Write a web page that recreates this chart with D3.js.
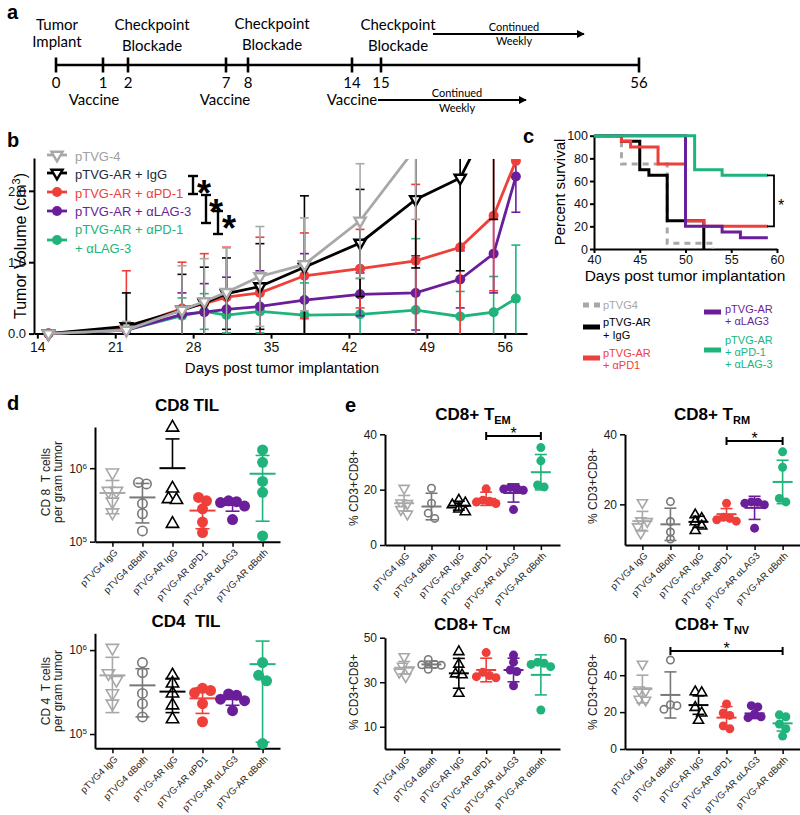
<!DOCTYPE html>
<html><head><meta charset="utf-8">
<script src="https://cdn.jsdelivr.net/npm/d3@7/dist/d3.min.js"></script>
<style>
body{margin:0;background:#fff}
svg{display:block}
text{font-family:"Liberation Sans",Arial,sans-serif}
.pre{white-space:pre}
</style></head><body>
<svg id="fig" width="800" height="815" viewBox="0 0 800 815"></svg>
<script>
// ================= DATA =================
// Panel a – treatment timeline
const tlDays=[0,1,2,7,8,14,15,56];
const topEventDays=[0,2,8,15];
const topEventText=[["Tumor","Implant"],["Checkpoint","Blockade"],["Checkpoint","Blockade"],["Checkpoint","Blockade"]];
const vaccineDays=[1,7,14];
const weeklyText=["Continued","Weekly"];

// Panel b – tumor volume (cm3), mean and SD
const bDays=[15,22,27,29,31,34,38,43,48,52,55,57];
const bTicks=[14,21,28,35,42,49,56];
const volPTVG4=[0,0.05,0.33,0.45,0.58,0.80,0.97,1.58,2.60,null,null,null];
const sdPTVG4 =[0.01,0.12,0.62,0.60,0.62,0.70,0.65,0.80,1.00,null,null,null];
const volIgG  =[0,0.10,0.33,0.43,0.56,0.66,0.93,1.27,1.88,2.18,3.10,null];
const sdIgG   =[0.01,0.47,0.50,0.50,0.50,0.60,1.00,0.75,0.96,1.30,1.50,null];
const volPD1  =[0,0.08,0.35,0.42,0.51,0.57,0.81,0.91,1.02,1.21,1.65,2.42];
const sdPD1   =[0.01,0.80,0.65,0.70,0.70,0.78,0.60,0.55,1.07,1.30,1.05,null];
const volLAG3 =[0,0.05,0.27,0.30,0.34,0.38,0.47,0.55,0.57,0.76,1.12,2.20];
const sdLAG3  =[0.01,0.05,0.30,0.40,0.45,0.50,0.65,0.30,0.52,0.40,0.55,0.50];
const volCombo=[0,0.05,0.25,0.31,0.26,0.31,0.26,0.27,0.33,0.24,0.30,0.49];
const sdCombo =[0.01,0.05,0.25,0.25,0.25,0.30,0.45,0.50,1.00,0.35,0.50,0.75];
const bLegend=[["pTVG-4"],["pTVG-AR + IgG"],["pTVG-AR + αPD-1"],["pTVG-AR + αLAG-3"],["pTVG-AR + αPD-1","+ αLAG-3"]];

// Panel c – survival
const survTicksX=[40,45,50,55,60];
const survTicksY=[0,20,40,60,80,100];
const tPTVG4=[40,43,48,53],          sPTVG4=[100,75,5,0];
const tIgG  =[40,43,45,46,48,52],    sIgG  =[100,95,70,65,25,0];
const tPD1  =[40,43,44,47,50,52,59], sPD1  =[100,95,90,75,25,20,20];
const tLAG3 =[40,50,54,56,59],       sLAG3 =[100,20,15,10,10];
const tCombo=[40,51,54,59],          sCombo=[100,70,65,65];
const cLegend=[["pTVG4"],["pTVG-AR","+ IgG"],["pTVG-AR","+ αPD1"],["pTVG-AR","+ αLAG3"],["pTVG-AR","+ αPD-1","+ αLAG-3"]];

// Panels d, e – dot plots
const dotCats=["pTVG4 IgG","pTVG4 αBoth","pTVG-AR IgG","pTVG-AR αPD1","pTVG-AR αLAG3","pTVG-AR αBoth"];
const cd8TilPts=[[8.7e5,4.9e5,4.9e5,3.5e5,2.5e5],[6.4e5,6.1e5,3.3e5,2.4e5,1.4e5],[3.57e6,5.3e5,3.8e5,3.7e5,1.75e5],
  [4.0e5,3.6e5,2.8e5,1.85e5,1.33e5],[3.6e5,3.5e5,3.4e5,3.05e5,2.0e5],[1.77e6,1.2e6,6.6e5,4.7e5,1.2e5]];
const cd8TilMean=[4.6e5,4.0e5,1.0e6,2.65e5,3.15e5,8.4e5];
const cd8TilSD=[2.2e5,2.2e5,1.5e6,1.15e5,0.55e5,6.5e5];
const cd4TilPts=[[1.06e6,5.3e5,4.4e5,3.05e5,2.3e5],[7.1e5,5.4e5,3.05e5,2.3e5,1.6e5],[5.0e5,4.0e5,3.05e5,2.2e5,1.5e5],
  [3.5e5,3.3e5,3.1e5,2.3e5,1.4e5],[3.0e5,2.9e5,2.6e5,2.5e5,1.9e5],[7.1e5,5.0e5,4.3e5,7.7e4]];
const cd4TilMean=[5.0e5,3.8e5,3.2e5,2.66e5,2.6e5,6.8e5];
const cd4TilSD=[3.2e5,2.2e5,1.4e5,0.9e5,0.4e5,6.0e5];
const temPts=[[20.5,15.2,15.0,12.8,11.2],[20.5,15.1,11.5,9.6],[16.2,15.2,14.5,13.0,12.0],[20.3,16.2,15.8,15.5,15.0],
  [20.8,20.5,20.2,19.8,12.8],[35.2,30.4,21.7,21.0]];
const temMean=[15.1,13.9,14.2,16.7,18.8,26.3];
const temSD=[2.8,4.8,1.6,2.4,3.3,6.4];
const trmPts=[[20.5,15.3,15.1,13.6,11.8],[20.8,15.1,12.1,10.1],[17.0,16.0,15.0,13.8,12.5],[20.3,16.3,16.0,15.6,15.2],
  [20.7,20.6,20.3,19.9,13.2],[35.0,30.6,21.7,20.7]];
const trmMean=[15.2,14.3,15.0,17.2,19.0,26.4];
const trmSD=[2.8,4.6,1.6,1.6,3.3,6.2];
const tcmPts=[[41.5,37.2,35.5,34.5,32.5],[40.2,38.0,37.8,37.6,35.8],[43.7,38.1,33.7,33.3,25.0],[43.3,34.5,33.0,32.5,32.0],
  [42.2,39.0,35.5,34.8,28.4],[39.0,38.5,38.0,37.0,17.5]];
const tcmMean=[36.5,38.0,34.0,35.5,35.5,33.3];
const tcmSD=[2.8,1.5,6.7,5.3,5.3,9.0];
const tnvPts=[[46.0,32.0,31.5,27.0,26.5],[48.2,24.0,23.5,21.5],[31.0,30.5,22.5,19.5,15.5],[24.4,19.5,18.2,12.5,11.0],
  [23.5,22.8,19.0,17.5,17.0],[18.5,17.5,13.5,11.0,7.0]];
const tnvMean=[32.5,29.3,23.8,17.0,19.3,13.9];
const tnvSD=[7.5,12.5,5.0,6.0,2.8,4.2];

// ================= STYLE =================
const COL={lgray:"#a8a8a8",mgray:"#787878",black:"#000",red:"#ef3f3a",purple:"#6b1e9a",green:"#20b47c",navy:"#1c2b3a"};
const dotShapes=["triDown","circleOpen","triUp","circle","circle","circle"];
const dotColors=[COL.lgray,COL.mgray,COL.black,COL.red,COL.purple,COL.green];

const svg=d3.select("#fig");
function txt(g,x,y,s,fs,o={}){
  const t=g.append("text").attr("x",x).attr("y",y).text(s).style("font-size",fs+"px");
  for(const k in o){ if(k==="anchor") t.attr("text-anchor",o[k]); else if(k==="family") t.style("font-family",o[k]); else if(k==="weight") t.style("font-weight",o[k]); else t.attr(k,o[k]); }
  return t;
}
function styleAxis(a,fs){
  a.select(".domain").attr("stroke","#000").attr("stroke-width",2);
  a.selectAll(".tick line").attr("stroke","#000").attr("stroke-width",2);
  a.selectAll(".tick text").style("font-size",fs+"px").attr("fill","#111");
}
function marker(g,shape,x,y,color,size,sw){
  if(shape==="circle") return g.append("circle").attr("cx",x).attr("cy",y).attr("r",size/2).attr("fill",color);
  if(shape==="circleOpen") return g.append("circle").attr("cx",x).attr("cy",y).attr("r",size/2-sw/2).attr("fill","none").attr("stroke",color).attr("stroke-width",sw);
  const s2=size*1.12, area=Math.sqrt(3)/4*s2*s2;
  return g.append("path").attr("d",d3.symbol().type(d3.symbolTriangle).size(area)())
    .attr("transform",`translate(${x},${y})`+(shape==="triDown"?" rotate(180)":""))
    .attr("fill","#fff").attr("stroke",color).attr("stroke-width",sw).attr("stroke-linejoin","miter");
}
function star(g,cx,cy,fs,bold){
  g.append("text").attr("x",cx).attr("y",cy+0.56*fs).attr("text-anchor","middle")
   .style("font-size",fs+"px").style("font-weight",bold?"bold":"normal").text("*");
}
function panelLetter(x,y,s){ txt(svg,x,y,s,20,{weight:"bold"}); }

// ================= PANEL A =================
(function(){
  const g=svg.append("g");
  const LATO="Lato, 'Open Sans', sans-serif";
  const tl=d3.scaleLinear().domain(tlDays).range([56,103,128,226,248,352,381,639]);
  panelLetter(7,19,"a");
  g.append("line").attr("x1",tl(0)).attr("x2",tl(56)).attr("y1",65).attr("y2",65).attr("stroke","#000").attr("stroke-width",2.6);
  tlDays.forEach(d=>{
    g.append("line").attr("x1",tl(d)).attr("x2",tl(d)).attr("y1",57.5).attr("y2",72.5).attr("stroke","#000").attr("stroke-width",2.6);
    txt(g,tl(d),88,d,15,{anchor:"middle",family:LATO});
  });
  const topDx=[1,24,24,17];
  const topY=[[30,47],[30,51],[29,50],[30,51]];
  topEventDays.forEach((d,i)=>{
    topEventText[i].forEach((s,j)=>txt(g,tl(d)+topDx[i],topY[i][j],s,15,{anchor:"middle",family:LATO}));
  });
  const vacDx=[-9,-1,0];
  vaccineDays.forEach((d,i)=>txt(g,tl(d)+vacDx[i],105,"Vaccine",15,{anchor:"middle",family:LATO}));
  const defs=svg.append("defs");
  defs.append("marker").attr("id","arrowA").attr("viewBox","0 0 10 10").attr("refX",9).attr("refY",5)
    .attr("markerWidth",4).attr("markerHeight",4).attr("orient","auto")
    .append("path").attr("d","M0,0 L10,5 L0,10 z").attr("fill","#000");
  function arrow(x1,x2,y,tx,ty1,ty2){
    g.append("line").attr("x1",x1).attr("x2",x2).attr("y1",y).attr("y2",y).attr("stroke","#000").attr("stroke-width",2).attr("marker-end","url(#arrowA)");
    txt(g,tx,ty1,weeklyText[0],11,{anchor:"middle",family:LATO});
    txt(g,tx,ty2,weeklyText[1],11,{anchor:"middle",family:LATO});
  }
  arrow(tl(15)+52,584,34,514,31,45);
  arrow(tl(14)+26,526,100,457,97,112);
})();

// ================= PANEL B =================
(function(){
  const g=svg.append("g");
  panelLetter(7,147,"b");
  const bx=d3.scaleLinear().domain([13.7,58]).range([34,527]);
  const by=d3.scaleLinear().domain([0,2.46]).range([333.6,158]);
  g.append("clipPath").attr("id","clipB").append("rect").attr("x",30).attr("y",159).attr("width",510).attr("height",190);
  const xa=g.append("g").attr("transform","translate(0,333.6)").call(d3.axisBottom(bx).tickValues(bTicks).tickSize(5).tickSizeOuter(0));
  styleAxis(xa,14);
  const ya=g.append("g").attr("transform","translate(34,0)").call(d3.axisLeft(by).tickValues([0,1,2]).tickSize(5).tickSizeOuter(0));
  styleAxis(ya,13);
  const yl=g.append("text").attr("transform","translate(26,246) rotate(-90)").attr("text-anchor","middle").style("font-size","16px");
  yl.append("tspan").text("Tumor Volume (cm");
  yl.append("tspan").attr("dy",-6).style("font-size","11px").text("3");
  yl.append("tspan").attr("dy",6).text(")");
  txt(g,282,373,"Days post tumor implantation",15,{anchor:"middle"});

  const series=[
    {v:volCombo,sd:sdCombo,color:COL.green,shape:"circle"},
    {v:volLAG3,sd:sdLAG3,color:COL.purple,shape:"circle"},
    {v:volPD1,sd:sdPD1,color:COL.red,shape:"circle"},
    {v:volIgG,sd:sdIgG,color:COL.black,shape:"triDown"},
    {v:volPTVG4,sd:sdPTVG4,color:COL.lgray,shape:"triDown"}
  ];
  const line=d3.line().defined(p=>p.v!=null).x(p=>bx(p.d)).y(p=>by(p.v));
  series.forEach(s=>{
    const data=bDays.map((d,i)=>({d,v:s.v[i],sd:s.sd[i]}));
    const gs=g.append("g").attr("clip-path","url(#clipB)");
    data.filter(p=>p.v!=null&&p.sd!=null&&p.sd>0.03).forEach(p=>{
      const x=bx(p.d),yt=by(p.v+p.sd),lo=p.v-p.sd,yb=by(Math.max(0,lo));
      gs.append("line").attr("x1",x).attr("x2",x).attr("y1",yt).attr("y2",yb).attr("stroke",s.color).attr("stroke-width",1.6);
      gs.append("line").attr("x1",x-4.5).attr("x2",x+4.5).attr("y1",yt).attr("y2",yt).attr("stroke",s.color).attr("stroke-width",1.6);
      if(lo>0) gs.append("line").attr("x1",x-4.5).attr("x2",x+4.5).attr("y1",yb).attr("y2",yb).attr("stroke",s.color).attr("stroke-width",1.6);
    });
    gs.append("path").datum(data).attr("d",line).attr("fill","none").attr("stroke",s.color).attr("stroke-width",2.8);
    data.filter(p=>p.v!=null).forEach(p=>marker(gs,s.shape,bx(p.d),by(p.v),s.color,10,2.4));
  });

  // legend
  const legColors=[COL.lgray,COL.black,COL.red,COL.purple,COL.green];
  const legText=["#a0a0a0",COL.navy,COL.red,COL.purple,COL.green];
  const legShapes=["triDown","triDown","circle","circle","circle"];
  const legBase=[161,179,198,216,234];
  const legMarkY=[155,173,192,211,240];
  bLegend.forEach((lines,i)=>{
    g.append("line").attr("x1",47).attr("x2",67).attr("y1",legMarkY[i]).attr("y2",legMarkY[i]).attr("stroke",legColors[i]).attr("stroke-width",2.8);
    marker(g,legShapes[i],57,legMarkY[i],legColors[i],10,2.4);
    lines.forEach((s,j)=>txt(g,75,legBase[i]+j*19,s,13,{fill:legText[i]}));
  });
  // significance brackets
  const br=[[193,176,194,204,186],[206,195,223,216,205],[218,211,234,229,221]];
  br.forEach(b=>{
    g.append("line").attr("x1",b[0]).attr("x2",b[0]).attr("y1",b[1]).attr("y2",b[2]).attr("stroke","#000").attr("stroke-width",2.4);
    [b[1],b[2]].forEach(yy=>g.append("line").attr("x1",b[0]-5).attr("x2",b[0]+5).attr("y1",yy).attr("y2",yy).attr("stroke","#000").attr("stroke-width",2.4));
    star(g,b[3],b[4],36,true);
  });
})();

// ================= PANEL C =================
(function(){
  const g=svg.append("g");
  panelLetter(523,143,"c");
  const cx=d3.scaleLinear().domain([40,60]).range([594,777]);
  const cy=d3.scaleLinear().domain([0,100]).range([249,135.7]);
  const xa=g.append("g").attr("transform","translate(0,249)").call(d3.axisBottom(cx).tickValues(survTicksX).tickSize(4).tickPadding(2).tickSizeOuter(0));
  styleAxis(xa,12.5);
  const ya=g.append("g").attr("transform","translate(594,0)").call(d3.axisLeft(cy).tickValues(survTicksY).tickSize(4).tickPadding(2).tickSizeOuter(0));
  styleAxis(ya,12.5);
  g.append("text").attr("transform","translate(565,192) rotate(-90)").attr("text-anchor","middle").style("font-size","15px").text("Percent survival");
  txt(g,685,281,"Days post tumor implantation",15.5,{anchor:"middle"});
  const curves=[
    {t:tPTVG4,s:sPTVG4,color:COL.lgray,dash:"6,5"},
    {t:tIgG,s:sIgG,color:COL.black},
    {t:tPD1,s:sPD1,color:COL.red},
    {t:tLAG3,s:sLAG3,color:COL.purple},
    {t:tCombo,s:sCombo,color:COL.green}
  ];
  const line=d3.line().x(d=>cx(d[0])).y(d=>cy(d[1])).curve(d3.curveStepAfter);
  curves.forEach(c=>{
    g.append("path").datum(c.t.map((t,i)=>[t,c.s[i]])).attr("d",line).attr("fill","none")
      .attr("stroke",c.color).attr("stroke-width",3).attr("stroke-dasharray",c.dash||null);
  });
  const bxp=774, y1=cy(sCombo[sCombo.length-1]), y2=cy(sPD1[sPD1.length-1]);
  g.append("path").attr("d",`M${bxp-7},${y1}H${bxp}V${y2}H${bxp-7}`).attr("fill","none").attr("stroke","#000").attr("stroke-width",1.8);
  star(g,781,202,16,false);
  const lc=[COL.lgray,COL.black,COL.red,COL.purple,COL.green];
  const lx=[583,583,583,704,704], ltx=[603,603,603,725,725];
  const lsy=[305,327,358,312,350];
  const lty=[[309],[326,339],[357,369],[313,325],[344,356,368]];
  cLegend.forEach((lines,i)=>{
    g.append("line").attr("x1",lx[i]).attr("x2",lx[i]+17).attr("y1",lsy[i]).attr("y2",lsy[i])
      .attr("stroke",lc[i]).attr("stroke-width",5).attr("stroke-dasharray",i===0?"6,5":null);
    lines.forEach((s,j)=>txt(g,ltx[i],lty[i][j],s,11,{fill:lc[i]}));
  });
})();

// ================= PANELS D & E =================
function swarm(ys,d){
  const n=ys.length, off=new Array(n).fill(0);
  const idx=d3.range(n).sort((a,b)=>ys[a]-ys[b]);
  const placed=[];
  idx.forEach(i=>{
    const cands=[0]; for(let k=1;k<8;k++){cands.push(k*d/2,-k*d/2);}
    for(const c of cands){
      if(placed.every(p=>(c-off[p])**2+(ys[i]-ys[p])**2>=d*d*0.999)){off[i]=c;break;}
    }
    placed.push(i);
  });
  let comp=[idx[0]];
  const flush=()=>{const xs=comp.map(i=>off[i]);const m=(d3.min(xs)+d3.max(xs))/2;comp.forEach(i=>off[i]-=m);};
  for(let k=1;k<n;k++){
    if(ys[idx[k]]-ys[idx[k-1]]<d) comp.push(idx[k]); else {flush();comp=[idx[k]];}
  }
  flush();
  return off;
}
function dotPlot(o){
  const g=svg.append("g");
  const x=d3.scalePoint().domain(dotCats).range([o.x0,o.x1]).padding(o.pad);
  const y=(o.log?d3.scaleLog():d3.scaleLinear()).domain(o.domain).range([o.yb,o.yt]);
  const xa=g.append("g").attr("transform",`translate(0,${o.yb})`).call(d3.axisBottom(x).tickSize(5).tickSizeOuter(0));
  styleAxis(xa,9.5);
  xa.selectAll(".tick line").attr("stroke-width",1.5);
  xa.selectAll(".tick text").attr("y",0).attr("dy","0.35em").attr("transform","translate(3,9) rotate(-45)").style("text-anchor","end").attr("fill","#222");
  const ya=g.append("g").attr("transform",`translate(${o.x0},0)`).call(d3.axisLeft(y).tickValues(o.ticks).tickSize(5).tickSizeOuter(0));
  styleAxis(ya,o.tickFs);
  ya.selectAll(".tick line").attr("stroke-width",1.5);
  ya.selectAll(".tick text").attr("fill","#222");
  if(o.log){
    ya.selectAll(".tick text").each(function(d){
      const t=d3.select(this); t.text("");
      t.append("tspan").text("10");
      t.append("tspan").attr("dy","-0.5em").style("font-size","8px").text(Math.round(Math.log10(d)));
    });
  }
  const tt=g.append("text").attr("x",o.title[1]).attr("y",o.title[2]).attr("text-anchor","middle").attr("class","pre").style("font-size","17px").style("font-weight","bold");
  tt.append("tspan").text(o.title[0]);
  if(o.sub) tt.append("tspan").attr("dy",4).style("font-size","11px").text(o.sub);
  o.ylab.forEach((s,j)=>{
    g.append("text").attr("class","pre").attr("transform",`translate(${o.ylabX[j]},${o.ylabY}) rotate(-90)`).attr("text-anchor","middle").style("font-size","12px").attr("fill","#222").text(s);
  });
  const hw=o.meanHW, cw=o.capHW;
  o.pts.forEach((arr,ci)=>{
    const cxp=x(dotCats[ci]), col=dotColors[ci], shape=dotShapes[ci];
    const ys=arr.map(v=>y(v));
    const off=swarm(ys,o.sw);
    arr.forEach((v,k)=>marker(g,shape,cxp+off[k],ys[k],col,o.msize,1.6));
    const m=o.mean[ci], s=o.sd[ci], lo=m-s;
    const yt=y(m+s), ym=y(m), ylo=lo>o.domain[0]?y(lo):ym;
    g.append("line").attr("x1",cxp).attr("x2",cxp).attr("y1",yt).attr("y2",ylo).attr("stroke",col).attr("stroke-width",1.6);
    g.append("line").attr("x1",cxp-cw).attr("x2",cxp+cw).attr("y1",yt).attr("y2",yt).attr("stroke",col).attr("stroke-width",1.6);
    if(lo>o.domain[0]) g.append("line").attr("x1",cxp-cw).attr("x2",cxp+cw).attr("y1",ylo).attr("y2",ylo).attr("stroke",col).attr("stroke-width",1.6);
    g.append("line").attr("x1",cxp-hw).attr("x2",cxp+hw).attr("y1",ym).attr("y2",ym).attr("stroke",col).attr("stroke-width",2);
  });
  if(o.bracket){
    const [a,b,yy]=o.bracket, xa1=x(dotCats[a]), xb1=x(dotCats[b]);
    g.append("line").attr("x1",xa1).attr("x2",xb1).attr("y1",yy).attr("y2",yy).attr("stroke","#000").attr("stroke-width",2);
    [xa1,xb1].forEach(xx=>g.append("line").attr("x1",xx).attr("x2",xx).attr("y1",yy-4).attr("y2",yy+4).attr("stroke","#000").attr("stroke-width",2));
    star(g,(xa1+xb1)/2,yy-6,16,false);
  }
}
panelLetter(7,410,"d");
panelLetter(345,412,"e");
const tilBase={x0:95,x1:280,pad:0.58,log:true,tickFs:12,meanHW:13,capHW:7,msize:11,sw:8,ylabX:[50,62]};
dotPlot(Object.assign({},tilBase,{domain:[1e5,Math.pow(10,6.56)],yb:541.7,yt:427,ticks:[1e5,1e6],
  title:["CD8 TIL",187,411],ylab:["CD 8  T cells","per gram tumor"],ylabY:482,pts:cd8TilPts,mean:cd8TilMean,sd:cd8TilSD}));
dotPlot(Object.assign({},tilBase,{domain:[Math.pow(10,4.83),Math.pow(10,6.2)],yb:748.3,yt:633.3,ticks:[1e5,1e6],
  title:["CD4  TIL",186,627],ylab:["CD 4  T cells","per gram tumor"],ylabY:691,pts:cd4TilPts,mean:cd4TilMean,sd:cd4TilSD}));
const eL={x0:385,x1:560,pad:0.7,tickFs:12,meanHW:10,capHW:6,msize:9,sw:6.5,ylab:["% CD3+CD8+"],ylabX:[358]};
const eR={x0:625,x1:800,pad:0.62,tickFs:12,meanHW:10,capHW:6,msize:9,sw:6.5,ylab:["% CD3+CD8+"],ylabX:[597]};
dotPlot(Object.assign({},eL,{domain:[0,40],yb:545,yt:434.3,ticks:[0,20,40],title:["CD8+ T",473,420],sub:"EM",
  ylabY:488,pts:temPts,mean:temMean,sd:temSD,bracket:[3,5,436]}));
dotPlot(Object.assign({},eR,{domain:[8.4,40],yb:545,yt:434.3,ticks:[20,40],title:["CD8+ T",712,420],sub:"RM",
  ylabY:486,pts:trmPts,mean:trmMean,sd:trmSD,bracket:[3,5,441]}));
dotPlot(Object.assign({},eL,{domain:[0,50],yb:749,yt:637.7,ticks:[10,30,50],title:["CD8+ T",472,630],sub:"CM",
  ylabY:692,pts:tcmPts,mean:tcmMean,sd:tcmSD}));
dotPlot(Object.assign({},eR,{domain:[0,60],yb:749,yt:638.3,ticks:[0,20,40,60],title:["CD8+ T",712,630],sub:"NV",
  ylabY:692,pts:tnvPts,mean:tnvMean,sd:tnvSD,bracket:[1,5,651]}));
</script></body></html>
